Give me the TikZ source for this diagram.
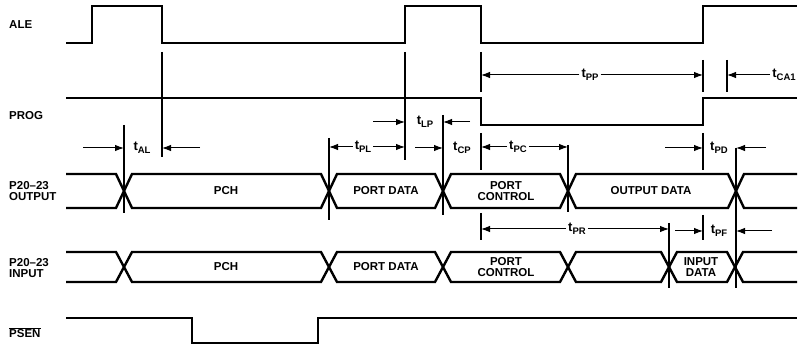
\documentclass[tikz,border=0pt]{standalone}
\usepackage{fontspec}
\setmainfont{Liberation Sans}
\usetikzlibrary{arrows.meta,calc}
\newcommand{\tsub}[1]{{\fontsize{13}{13}\selectfont t}\raisebox{-0.45ex}{\fontsize{9.5}{9.5}\selectfont #1}}
\newcommand{\busseg}[4]{\draw[sig] (#1,{(#3+#4)/2}) -- ({#1+8},#3) -- ({#2-8},#3) -- (#2,{(#3+#4)/2}) -- ({#2-8},#4) -- ({#1+8},#4) -- cycle;}
\newcommand{\busstart}[3]{\draw[sig] (66,#2) -- ({#1-8},#2) -- (#1,{(#2+#3)/2}) -- ({#1-8},#3) -- (66,#3);}
\newcommand{\busend}[3]{\draw[sig] (797,#2) -- ({#1+8},#2) -- (#1,{(#2+#3)/2}) -- ({#1+8},#3) -- (797,#3);}
\begin{document}
\begin{tikzpicture}[x=1pt,y=-1pt,
    every node/.style={font=\bfseries\fontsize{11.5}{11.5}\selectfont},
    sig/.style={line width=2.4pt},
    tickline/.style={line width=1.1pt},
    dimarrow/.style={line width=1pt,-{Latex[length=9pt,width=6.5pt]}},
    lbl/.style={anchor=west,align=left,inner sep=1pt},
    tl/.style={inner sep=2pt}]
        \useasboundingbox (0,0) rectangle (806,347);

        \coordinate (x1) at (124,0);
        \coordinate (x2) at (162,0);
        \coordinate (x3) at (329,0);
        \coordinate (x4) at (405,0);
        \coordinate (x5) at (443,0);
        \coordinate (x6) at (481,0);
        \coordinate (x7) at (568,0);
        \coordinate (x8) at (669,0);
        \coordinate (x9) at (703,0);
        \coordinate (x10) at (727,0);
        \coordinate (x11) at (736,0);

        \node[lbl] (ale) at (8,25) {ALE};
        \node[lbl] (prog) at (8,116) {PROG};
        \node[lbl] (pout) at (8,191) {P20--23\\OUTPUT};
        \node[lbl] (pin) at (8,268) {P20--23\\INPUT};
        \node[lbl] (psen) at (8,333) {$\overline{\mbox{PSEN}}$};

        \draw[sig] (66,43) -| (92,6) -| (162,43) -| (405,6) -| (481,43) -| (703,6) -- (797,6);
        \draw[sig] (66,98) -| (481,125) -| (703,98) -- (797,98);
        \draw[sig] (66,318) -| (192,343) -| (318,318) -- (797,318);

        \busstart{124}{174}{208}
        \foreach \a/\b in {124/329,329/443,443/568,568/736} {\busseg{\a}{\b}{174}{208}}
        \busend{736}{174}{208}

        \busstart{124}{252}{282}
        \foreach \a/\b in {124/329,329/443,443/568,568/669,669/735} {\busseg{\a}{\b}{252}{282}}
        \busend{735}{252}{282}

        \node (pch1) at (226,191) {PCH};
        \node (pdata1) at (386,191) {PORT DATA};
        \node[align=center] (pctl1) at (506,191) {PORT\\CONTROL};
        \node (odata) at (651,191) {OUTPUT DATA};
        \node (pch2) at (226,267) {PCH};
        \node (pdata2) at (386,267) {PORT DATA};
        \node[align=center] (pctl2) at (506,267) {PORT\\CONTROL};
        \node[align=center] (idata) at (701,267) {INPUT\\DATA};

        \draw[tickline] (124,125) -- (124,213);
        \draw[tickline] (162,52) -- (162,157);
        \draw[tickline] (329,138) -- (329,220);
        \draw[tickline] (405,52) -- (405,160);
        \draw[tickline] (443,115) -- (443,215);
        \draw[tickline] (481,52) -- (481,92);
        \draw[tickline] (481,133) -- (481,170);
        \draw[tickline] (481,213) -- (481,240);
        \draw[tickline] (568,145) -- (568,212);
        \draw[tickline] (669,223) -- (669,288);
        \draw[tickline] (703,60) -- (703,92);
        \draw[tickline] (703,133) -- (703,170);
        \draw[tickline] (703,215) -- (703,240);
        \draw[tickline] (727,60) -- (727,92);
        \draw[tickline] (736,148) -- (736,288);

        \node[tl] (tal) at (142,148) {\tsub{AL}};
        \node[tl] (tlp) at (425,122) {\tsub{LP}};
        \node[tl] (tpl) at (363,147) {\tsub{PL}};
        \node[tl] (tcp) at (462,148) {\tsub{CP}};
        \node[tl] (tpc) at (518,147) {\tsub{PC}};
        \node[tl] (tpd) at (719,148) {\tsub{PD}};
        \node[tl] (tpp) at (590,75) {\tsub{PP}};
        \node[tl] (tca) at (784,75) {\tsub{CA1}};
        \node[tl] (tpr) at (577,229) {\tsub{PR}};
        \node[tl] (tpf) at (719,231) {\tsub{PF}};

        \draw[dimarrow] ($(x1|-tal)+(-41,0)$) -- (x1|-tal);
        \draw[dimarrow] ($(x2|-tal)+(38,0)$) -- (x2|-tal);
        \draw[dimarrow] ($(x4|-tlp)+(-32,0)$) -- (x4|-tlp);
        \draw[dimarrow] ($(x5|-tlp)+(27,0)$) -- (x5|-tlp);
        \draw[dimarrow] (tpl.west) -- (x3|-tpl);
        \draw[dimarrow] (tpl.east) -- (x4|-tpl);
        \draw[dimarrow] ($(x5|-tcp)+(-28,0)$) -- (x5|-tcp);
        \draw[dimarrow] (tpc.west) -- (x6|-tpc);
        \draw[dimarrow] (tpc.east) -- (x7|-tpc);
        \draw[dimarrow] ($(x9|-tpd)+(-38,0)$) -- (x9|-tpd);
        \draw[dimarrow] ($(x11|-tpd)+(30,0)$) -- (x11|-tpd);
        \draw[dimarrow] (tpp.west) -- (x6|-tpp);
        \draw[dimarrow] (tpp.east) -- (x9|-tpp);
        \draw[dimarrow] (tca.west) -- (x10|-tca);
        \draw[dimarrow] (tpr.west) -- (x6|-tpr);
        \draw[dimarrow] (tpr.east) -- (x8|-tpr);
        \draw[dimarrow] ($(x9|-tpf)+(-28,0)$) -- (x9|-tpf);
        \draw[dimarrow] ($(x11|-tpf)+(36,0)$) -- (x11|-tpf);
    \end{tikzpicture}
\end{document}
